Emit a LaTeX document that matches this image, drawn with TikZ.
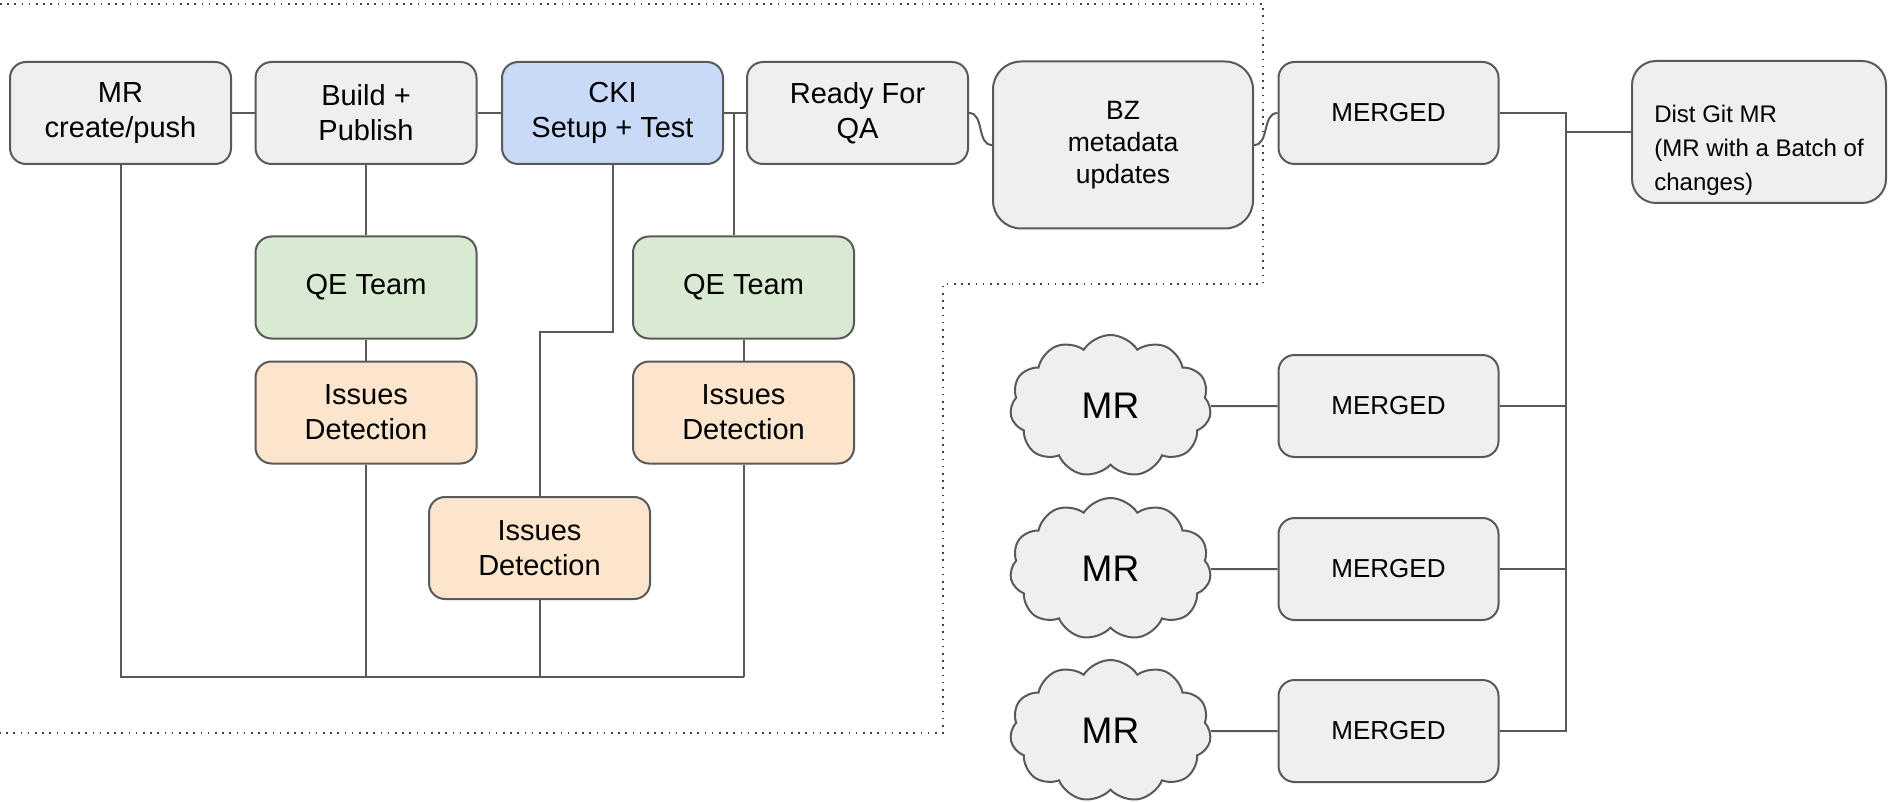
\documentclass[tikz,border=0pt]{standalone}
\usepackage{fontspec}
\setmainfont{Liberation Sans}
\usetikzlibrary{shapes.symbols}
\definecolor{boxgray}{HTML}{EFEFEF}
\definecolor{boxline}{HTML}{595959}
\definecolor{ckiblue}{HTML}{C9DAF8}
\definecolor{qegreen}{HTML}{D9EAD3}
\definecolor{issorange}{HTML}{FCE5CD}
\begin{document}
\begin{tikzpicture}[
    x=1pt, y=-1pt,
    stage/.style={draw=boxline, line width=2pt, fill=boxgray, rounded corners=16pt,
      minimum width=221pt, minimum height=102pt, align=center,
      font=\fontsize{29}{35}\selectfont},
    merged/.style={stage, minimum width=220pt, font=\fontsize{26}{31}\selectfont},
    mrcloud/.style={cloud, draw=boxline, line width=2pt, fill=boxgray, cloud puffs=11,
      cloud puff arc=115, aspect=1.4, minimum width=201pt, minimum height=142pt,
      inner sep=0pt, font=\fontsize{37}{44}\selectfont},
    link/.style={draw=boxline, line width=2pt},
    frame/.style={draw=black!75, line width=1.6pt, dash pattern=on 1.6pt off 5.6pt}
  ]
  \useasboundingbox (0,0) rectangle (1889,802);
  \draw[frame] (0,4) -- (1263,4) -- (1263,284) -- (943,284) -- (943,733) -- (0,733);
  % pipeline
  \node[stage] (mr) at (120.5,113) {MR\\create/push};
  \node[stage] (build) at (366,113) {Build +\\Publish};
  \node[stage, fill=ckiblue] (cki) at (612.5,113) {CKI\\Setup + Test};
  \node[stage] (ready) at (857.5,113) {Ready For\\QA};
  \node[stage, fill=qegreen] (qebuild) at (366,287.5) {QE Team};
  \node[stage, fill=qegreen] (qeqa) at (743.5,287.5) {QE Team};
  \node[stage, fill=issorange] (issbuild) at (366,412.5) {Issues\\Detection};
  \node[stage, fill=issorange] (issqa) at (743.5,412.5) {Issues\\Detection};
  \node[stage, fill=issorange] (isscki) at (539.5,548) {Issues\\Detection};
  \node[stage, minimum width=260pt, minimum height=167pt, rounded corners=28pt,
    font=\fontsize{26.5}{32}\selectfont] (bz) at (1123,145) {BZ\\metadata\\updates};
  \node[merged] (mtop) at (1388.5,113) {MERGED};
  \node[stage, minimum width=254pt, minimum height=142pt, rounded corners=24pt,
    align=left, font=\fontsize{24}{34}\selectfont] (dist) at (1759,132)
    {\rule{0pt}{54pt}Dist Git MR\\(MR with a Batch of\\changes)};
  % other MRs of the batch
  \node[mrcloud] (cloud1) at (1110.5,406) {MR};
  \node[mrcloud] (cloud2) at (1110.5,569) {MR};
  \node[mrcloud] (cloud3) at (1110.5,731) {MR};
  \node[merged] (merged1) at (1388.5,406) {MERGED};
  \node[merged] (merged2) at (1388.5,569) {MERGED};
  \node[merged] (merged3) at (1388.5,731) {MERGED};
  \coordinate (qafork) at ([xshift=10pt]cki.east);
  \coordinate (bus) at (0,677);
  \coordinate (distbus) at (1566,113);
  % connectors
  \draw[link] (mr) -- (build);
  \draw[link] (build) -- (cki);
  \draw[link] (cki) -- (ready);
  \draw[link] (qafork) -- (qafork |- qeqa.north);
  \draw[link] (build) -- (qebuild);
  \draw[link] (qebuild) -- (issbuild);
  \draw[link] (qeqa) -- (issqa);
  \draw[link] (cki.south) -- ++(0,167) -| (isscki.north);
  \draw[link] (mr.south) |- (issqa.south |- bus);
  \draw[link] (issbuild.south) -- (issbuild.south |- bus);
  \draw[link] (isscki.south) -- (isscki.south |- bus);
  \draw[link] (issqa.south) -- (issqa.south |- bus);
  \draw[link] (ready.east) to[out=0, in=180] (bz.west);
  \draw[link] (bz.east) to[out=0, in=180] (mtop.west);
  \draw[link] (mtop.east) -- (distbus) |- (dist.west);
  \draw[link] (cloud1) -- (merged1);
  \draw[link] (cloud2) -- (merged2);
  \draw[link] (cloud3) -- (merged3);
  \draw[link] (merged1.east) -- (merged1.east -| distbus);
  \draw[link] (merged2.east) -- (merged2.east -| distbus);
  \draw[link] (merged3.east) -| (distbus);
\end{tikzpicture}
\end{document}
